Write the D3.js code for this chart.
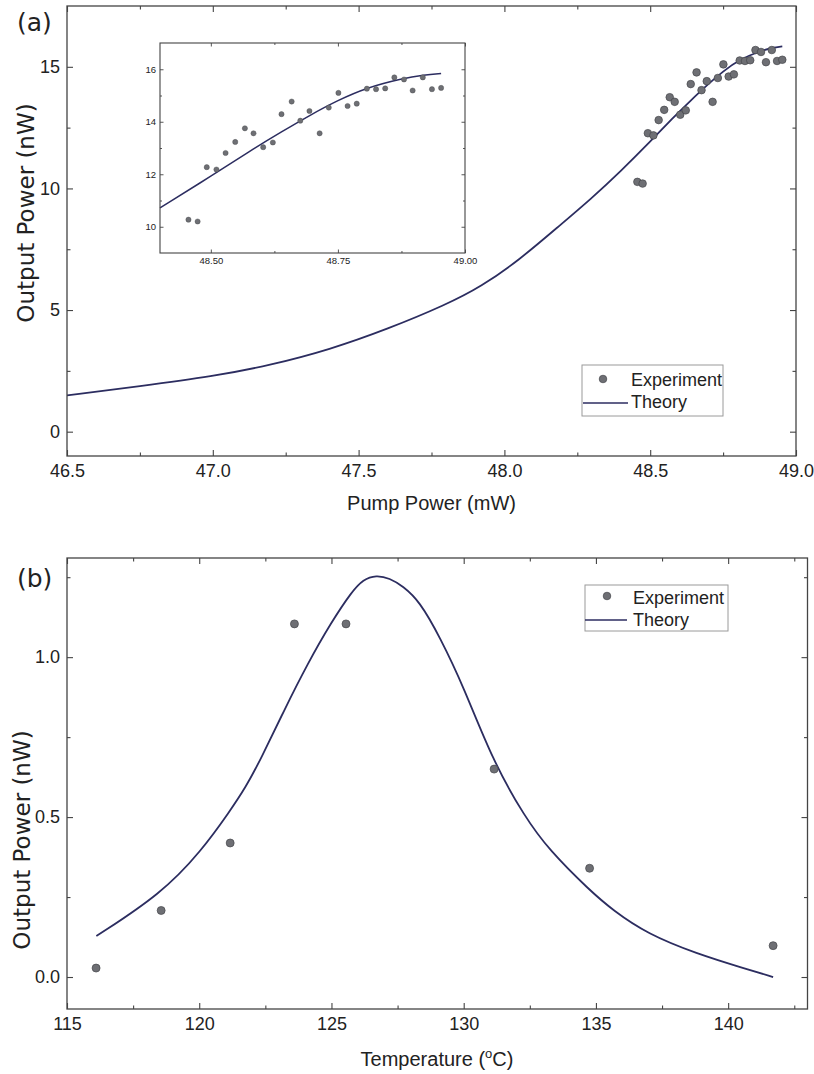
<!DOCTYPE html>
<html><head><meta charset="utf-8">
<script src="https://cdn.jsdelivr.net/npm/d3@7/dist/d3.min.js"></script>
<style>body{margin:0;background:#fff}</style>
</head><body>
<svg id="c" width="814" height="1074" xmlns="http://www.w3.org/2000/svg"></svg>
<script>
// ---------- Panel (a) data ----------
const pumpPower = [48.456,48.474,48.492,48.511,48.529,48.548,48.567,48.584,48.603,48.622,48.639,48.659,48.676,48.694,48.714,48.732,48.751,48.769,48.787,48.807,48.825,48.843,48.861,48.880,48.897,48.917,48.935,48.953];
const outputPowerA = [10.27,10.20,12.27,12.18,12.81,13.23,13.75,13.56,13.03,13.21,14.29,14.77,14.04,14.41,13.56,14.54,15.10,14.60,14.69,15.26,15.24,15.27,15.69,15.61,15.19,15.69,15.24,15.29];
const theoryPumpX = [46.5,46.75,47.0,47.2,47.4,47.6,47.8,47.92,48.05,48.18,48.3,48.4,48.5,48.576,48.641,48.694,48.75,48.807,48.875,48.92,48.953];
const theoryA     = [1.49,1.87,2.27,2.74,3.37,4.22,5.22,5.96,7.05,8.38,9.6,10.72,11.92,12.88,13.64,14.24,14.82,15.3,15.64,15.79,15.84];
const xTicksA = [46.5,47.0,47.5,48.0,48.5,49.0];
const xMinorA = [46.75,47.25,47.75,48.25,48.75];
const yTicksA = [0,5,10,15];
const yMinorA = [2.5,7.5,12.5];
const xTicksInset = [48.5,48.75,49.0];
const xMinorInset = [48.625,48.875];
const yTicksInset = [10,12,14,16];
const yMinorInset = [11,13,15];

// ---------- Panel (b) data ----------
const tempC = [116.1,118.56,121.17,123.6,125.55,131.15,134.76,141.7];
const outputPowerB = [0.028,0.208,0.419,1.104,1.104,0.65,0.34,0.098];
const theoryTempX = [116.11,118.56,120.09,121.17,121.76,122.31,123.21,124.10,125.0,125.77,126.2,126.69,127.2,127.7,128.33,129.1,130.0,131.09,132.31,133.24,134.76,135.65,136.94,138.8,140.65,141.7];
const theoryB     = [0.128,0.26,0.395,0.52,0.594,0.678,0.834,0.980,1.110,1.205,1.243,1.256,1.247,1.222,1.175,1.063,0.907,0.678,0.5,0.396,0.271,0.208,0.135,0.073,0.026,0.0];
const xTicksB = [115,120,125,130,135,140];
const xMinorB = [117.5,122.5,127.5,132.5,137.5,142.5];
const yTicksB = [0.0,0.5,1.0];
const yMinorB = [0.25,0.75,1.25];

const legendLabels = ["Experiment","Theory"];

const LINE = "#2c2d60", PT = "#6e6f74", PTS = "#45464a", FR = "#444";
const svg = d3.select("#c");
svg.append("rect").attr("width",814).attr("height",1074).attr("fill","#fff");

function drawAxes(g, x, y, o){
  const W = x.range()[1]-x.range()[0], H = y.range()[0]-y.range()[1];
  const x0 = x.range()[0], y0 = y.range()[1];
  const tk = o.major, tm = o.minor;
  const style = sel => { sel.select(".domain").remove();
    sel.selectAll("line").attr("stroke",FR).attr("stroke-width",o.sw);
    sel.selectAll("text").attr("font-family","'Liberation Sans', Arial, sans-serif").attr("font-size",o.fs).attr("fill","#222"); };
  g.append("g").attr("transform",`translate(0,${y.range()[0]})`)
    .call(d3.axisBottom(x).tickValues(o.xT).tickSize(-tk).tickPadding(o.pad).tickFormat(o.xF)).call(style);
  g.append("g").attr("transform",`translate(0,${y.range()[0]})`)
    .call(d3.axisBottom(x).tickValues(o.xM).tickSize(-tm).tickFormat("")).call(style);
  g.append("g").attr("transform",`translate(0,${y0})`)
    .call(d3.axisTop(x).tickValues(o.xT).tickSize(-tk).tickFormat("")).call(style);
  g.append("g").attr("transform",`translate(0,${y0})`)
    .call(d3.axisTop(x).tickValues(o.xM).tickSize(-tm).tickFormat("")).call(style);
  g.append("g").attr("transform",`translate(${x0},0)`)
    .call(d3.axisLeft(y).tickValues(o.yT).tickSize(-tk).tickPadding(o.padY).tickFormat(o.yF)).call(style);
  g.append("g").attr("transform",`translate(${x0},0)`)
    .call(d3.axisLeft(y).tickValues(o.yM).tickSize(-tm).tickFormat("")).call(style);
  g.append("g").attr("transform",`translate(${x.range()[1]},0)`)
    .call(d3.axisRight(y).tickValues(o.yT).tickSize(-tk).tickFormat("")).call(style);
  g.append("g").attr("transform",`translate(${x.range()[1]},0)`)
    .call(d3.axisRight(y).tickValues(o.yM).tickSize(-tm).tickFormat("")).call(style);
  g.append("rect").attr("x",x0).attr("y",y0).attr("width",W).attr("height",H)
    .attr("fill","none").attr("stroke",FR).attr("stroke-width",o.fw);
}

function legend(g, bx, by, bw, bh, mx, my, lx1, lx2, ly, tx, ty1, ty2){
  g.append("rect").attr("x",bx).attr("y",by).attr("width",bw).attr("height",bh)
    .attr("fill","#fff").attr("stroke","#9a9a9a").attr("stroke-width",1);
  g.append("circle").attr("cx",mx).attr("cy",my).attr("r",3.8).attr("fill",PT).attr("stroke",PTS).attr("stroke-width",0.7);
  g.append("line").attr("x1",lx1).attr("x2",lx2).attr("y1",ly).attr("y2",ly).attr("stroke",LINE).attr("stroke-width",1.6);
  g.selectAll("text.lg").data(legendLabels).enter().append("text").attr("class","lg")
    .attr("x",tx).attr("y",(d,i)=> i===0?ty1:ty2).text(d=>d)
    .attr("font-family","'Liberation Sans', Arial, sans-serif").attr("font-size",18).attr("fill","#222");
}

const smooth = d3.curveBasis;

// ---------------- Panel (a) ----------------
const xA = d3.scaleLinear().domain([46.5,49.0]).range([67,796]);
const yA = d3.scaleLinear().domain([-1,17.5]).range([456,6]);
const gA = svg.append("g");
svg.append("clipPath").attr("id","clipA").append("rect").attr("x",67).attr("y",6).attr("width",729).attr("height",450);
const lineA = d3.line().x(d=>xA(d[0])).y(d=>yA(d[1])).curve(smooth);
const theoryAData = theoryPumpX.map((v,i)=>[v,theoryA[i]]);
gA.append("path").attr("clip-path","url(#clipA)").attr("d",lineA(theoryAData)).attr("fill","none").attr("stroke",LINE).attr("stroke-width",1.8);
gA.selectAll("circle.pa").data(pumpPower).enter().append("circle").attr("class","pa")
  .attr("cx",d=>xA(d)).attr("cy",(d,i)=>yA(outputPowerA[i])).attr("r",3.8)
  .attr("fill",PT).attr("stroke",PTS).attr("stroke-width",0.7);
drawAxes(gA, xA, yA, {xT:xTicksA,xM:xMinorA,yT:yTicksA,yM:yMinorA,major:6,minor:3.5,pad:8,padY:7,
  xF:d3.format(".1f"),yF:d3.format("d"),fs:18,sw:1.1,fw:1.3});

// inset
const xI = d3.scaleLinear().domain([48.4,49.0]).range([160,465]);
const yI = d3.scaleLinear().domain([9,17]).range([253,43]);
const gI = svg.append("g");
gI.append("rect").attr("x",160).attr("y",43).attr("width",305).attr("height",210).attr("fill","#fff");
const lineI = d3.line().x(d=>xI(d[0])).y(d=>yI(d[1])).curve(smooth);
gI.append("path").attr("d",lineI(theoryAData.filter(d=>d[0]>=48.4))).attr("fill","none").attr("stroke",LINE).attr("stroke-width",1.5);
gI.selectAll("circle.pi").data(pumpPower).enter().append("circle").attr("class","pi")
  .attr("cx",d=>xI(d)).attr("cy",(d,i)=>yI(outputPowerA[i])).attr("r",2.6)
  .attr("fill",PT).attr("stroke",PTS).attr("stroke-width",0.4);
drawAxes(gI, xI, yI, {xT:xTicksInset,xM:xMinorInset,yT:yTicksInset,yM:yMinorInset,major:3.5,minor:2,pad:4,padY:4,
  xF:d3.format(".2f"),yF:d3.format("d"),fs:9.5,sw:0.9,fw:1.1});

legend(svg.append("g"), 582, 365, 141, 51, 603, 379, 583, 628, 403, 631, 386, 408);

svg.append("text").attr("x",17).attr("y",31).text("(a)")
  .attr("font-family","'DejaVu Sans', sans-serif").attr("font-size",25).attr("fill","#222");
svg.append("text").attr("transform","translate(34,213) rotate(-90)").attr("text-anchor","middle").text("Output Power (nW)")
  .attr("font-family","'DejaVu Sans', sans-serif").attr("font-size",23).attr("fill","#222");
svg.append("text").attr("x",431.5).attr("y",510).attr("text-anchor","middle").text("Pump Power (mW)")
  .attr("font-family","'Liberation Sans', Arial, sans-serif").attr("font-size",20).attr("fill","#222");

// ---------------- Panel (b) ----------------
const xB = d3.scaleLinear().domain([115,143]).range([67,807.5]);
const yB = d3.scaleLinear().domain([-0.1,1.31]).range([1009,558]);
const gB = svg.append("g");
const lineB = d3.line().x(d=>xB(d[0])).y(d=>yB(d[1])).curve(smooth);
gB.append("path").attr("d",lineB(theoryTempX.map((v,i)=>[v,theoryB[i]]))).attr("fill","none").attr("stroke",LINE).attr("stroke-width",1.8);
gB.selectAll("circle.pb").data(tempC).enter().append("circle").attr("class","pb")
  .attr("cx",d=>xB(d)).attr("cy",(d,i)=>yB(outputPowerB[i])).attr("r",4)
  .attr("fill",PT).attr("stroke",PTS).attr("stroke-width",0.7);
drawAxes(gB, xB, yB, {xT:xTicksB,xM:xMinorB,yT:yTicksB,yM:yMinorB,major:6,minor:3.5,pad:8,padY:7,
  xF:d3.format("d"),yF:d3.format(".1f"),fs:18,sw:1.1,fw:1.3});

legend(svg.append("g"), 585, 585, 143, 46, 607, 596, 585, 627, 620, 633, 604, 626);

svg.append("text").attr("x",17).attr("y",587).text("(b)")
  .attr("font-family","'DejaVu Sans', sans-serif").attr("font-size",25).attr("fill","#222");
svg.append("text").attr("transform","translate(30,840) rotate(-90)").attr("text-anchor","middle").text("Output Power (nW)")
  .attr("font-family","'DejaVu Sans', sans-serif").attr("font-size",23).attr("fill","#222");
const tt = svg.append("text").attr("x",437).attr("y",1066).attr("text-anchor","middle")
  .attr("font-family","'Liberation Sans', Arial, sans-serif").attr("font-size",20).attr("fill","#222");
tt.append("tspan").text("Temperature (");
tt.append("tspan").attr("font-size",13).attr("dy",-8).text("o");
tt.append("tspan").attr("dy",8).text("C)");
</script>
</body></html>
